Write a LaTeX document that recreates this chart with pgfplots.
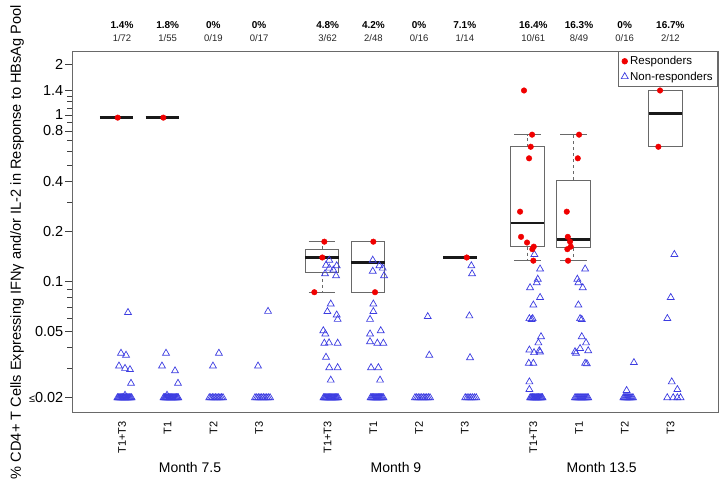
\documentclass[border=0pt]{standalone}
\usepackage{fontspec}
\setmainfont{Liberation Sans}
\usepackage{pgfplots}
\pgfplotsset{compat=1.18}
\definecolor{tri}{RGB}{60,60,225}
\definecolor{resp}{RGB}{240,0,0}
\definecolor{frame}{RGB}{105,105,105}
\begin{document}
\begin{tikzpicture}[x=1pt,y=1pt]
\begin{axis}[
  at={(72pt,-412pt)}, anchor=south west,
  scale only axis, width=646pt, height=361pt,
  ymode=log, ymin=0.01641, ymax=2.417,
  xmin=-0.094, xmax=14.04,
  axis line style={frame, line width=0.7pt},
  xtick={1,2,3,4,5.5,6.5,7.5,8.5,10,11,12,13},
  xticklabels={T1+T3,T1,T2,T3,T1+T3,T1,T2,T3,T1+T3,T1,T2,T3},
  xticklabel style={rotate=90, anchor=east, font=\fontsize{11}{13}\selectfont, inner sep=2pt},
  xtick style={draw=none},
  xtick pos=bottom, ytick pos=left,
  ytick={0.02,0.05,0.1,0.2,0.4,0.8,1,1.4,2},
  yticklabels={{{\fontsize{11}{12}\selectfont≤}0.02},0.05,0.1,0.2,0.4,0.8,1,1.4,2},
  minor ytick={0.03,0.04,0.06,0.07,0.08,0.09,0.3,0.5,0.6,0.7,0.9,1.1,1.2,1.3},
  yticklabel style={font=\fontsize{14.5}{16}\selectfont, inner xsep=1.5pt},
  tick align=outside, major tick length=7pt, minor tick length=5pt,
  tick style={black!75, line width=0.6pt},
  legend style={at={(1,1)}, anchor=north east, draw=frame, fill=white,
    font=\fontsize{11.5}{13}\selectfont, inner xsep=3pt, inner ysep=3pt, row sep=1.5pt,
    line width=0.7pt},
  legend cell align=left,
]
% ---------- box plots (responders) ----------
\pgfplotsset{bx/.style={draw=frame, line width=0.7pt, forget plot},
             md/.style={draw=black!90, line width=2.6pt, forget plot},
             wh/.style={draw=frame, line width=0.7pt, dashed, forget plot}}
% Month 7.5 T1+T3 and T1 (single responder)
\addplot[md] coordinates {(0.5135,0.962) (1.2465,0.962)};
\addplot[md] coordinates {(1.5195,0.962) (2.2525,0.962)};
% Month 9 T1+T3
\addplot[bx] coordinates {(5.0095,0.1125) (5.7425,0.1125) (5.7425,0.156) (5.0095,0.156) (5.0095,0.1125)};
\addplot[wh] coordinates {(5.376,0.156) (5.376,0.173)};
\addplot[wh] coordinates {(5.376,0.1125) (5.376,0.086)};
\addplot[bx] coordinates {(5.084,0.173) (5.668,0.173)};
\addplot[bx] coordinates {(5.084,0.086) (5.668,0.086)};
\addplot[md] coordinates {(5.0095,0.139) (5.7425,0.139)};
% Month 9 T1
\addplot[bx] coordinates {(6.0165,0.086) (6.7495,0.086) (6.7495,0.173) (6.0165,0.173) (6.0165,0.086)};
\addplot[md] coordinates {(6.0165,0.1295) (6.7495,0.1295)};
% Month 9 T3
\addplot[md] coordinates {(8.0295,0.139) (8.7625,0.139)};
% Month 13.5 T1+T3
\addplot[bx] coordinates {(9.5025,0.1615) (10.2355,0.1615) (10.2355,0.643) (9.5025,0.643) (9.5025,0.1615)};
\addplot[wh] coordinates {(9.869,0.643) (9.869,0.760)};
\addplot[wh] coordinates {(9.869,0.1615) (9.869,0.133)};
\addplot[bx] coordinates {(9.577,0.760) (10.161,0.760)};
\addplot[bx] coordinates {(9.577,0.133) (10.161,0.133)};
\addplot[md] coordinates {(9.5025,0.2235) (10.2355,0.2235)};
% Month 13.5 T1
\addplot[bx] coordinates {(10.5095,0.159) (11.2425,0.159) (11.2425,0.405) (10.5095,0.405) (10.5095,0.159)};
\addplot[wh] coordinates {(10.876,0.405) (10.876,0.760)};
\addplot[wh] coordinates {(10.876,0.159) (10.876,0.133)};
\addplot[bx] coordinates {(10.584,0.760) (11.168,0.760)};
\addplot[bx] coordinates {(10.584,0.133) (11.168,0.133)};
\addplot[md] coordinates {(10.5095,0.179) (11.2425,0.179)};
% Month 13.5 T3
\addplot[bx] coordinates {(12.5225,0.643) (13.2555,0.643) (13.2555,1.40) (12.5225,1.40) (12.5225,0.643)};
\addplot[md] coordinates {(12.5225,1.02) (13.2555,1.02)};

% ---------- non-responders ----------
\pgfplotsset{nr/.style={only marks, mark=triangle, mark size=4pt, tri, mark options={line width=0.7pt}, forget plot}}
% values at the detection floor (<= 0.02)
\addplot[nr] coordinates {
(0.90,0.02)(0.918,0.02)(0.936,0.02)(0.954,0.02)(0.972,0.02)(0.99,0.02)(1.008,0.02)(1.026,0.02)(1.044,0.02)
(1.062,0.02)(1.08,0.02)(1.098,0.02)(1.116,0.02)(1.134,0.02)(1.152,0.02)(1.17,0.02)(1.19,0.02)(1.21,0.02)
(1.91,0.02)(1.929,0.02)(1.948,0.02)(1.967,0.02)(1.986,0.02)(2.005,0.02)(2.024,0.02)(2.043,0.02)(2.062,0.02)
(2.081,0.02)(2.10,0.02)(2.119,0.02)(2.138,0.02)(2.157,0.02)(2.176,0.02)(2.195,0.02)(2.213,0.02)(2.23,0.02)
(2.91,0.02)(2.943,0.02)(2.977,0.02)(3.01,0.02)(3.043,0.02)(3.077,0.02)(3.11,0.02)(3.143,0.02)(3.177,0.02)(3.21,0.02)
(3.91,0.02)(3.947,0.02)(3.983,0.02)(4.02,0.02)(4.057,0.02)(4.093,0.02)(4.13,0.02)(4.167,0.02)(4.203,0.02)(4.24,0.02)
(5.41,0.02)(5.429,0.02)(5.448,0.02)(5.466,0.02)(5.485,0.02)(5.504,0.02)(5.523,0.02)(5.541,0.02)(5.56,0.02)
(5.579,0.02)(5.598,0.02)(5.616,0.02)(5.635,0.02)(5.654,0.02)(5.673,0.02)(5.691,0.02)(5.71,0.02)(5.73,0.02)
(6.44,0.02)(6.462,0.02)(6.483,0.02)(6.505,0.02)(6.526,0.02)(6.548,0.02)(6.569,0.02)(6.591,0.02)(6.612,0.02)
(6.634,0.02)(6.655,0.02)(6.677,0.02)(6.698,0.02)(6.72,0.02)
(7.41,0.02)(7.447,0.02)(7.483,0.02)(7.52,0.02)(7.557,0.02)(7.593,0.02)(7.63,0.02)(7.667,0.02)(7.703,0.02)(7.74,0.02)
(8.51,0.02)(8.55,0.02)(8.59,0.02)(8.63,0.02)(8.67,0.02)(8.71,0.02)(8.75,0.02)
(9.93,0.02)(9.948,0.02)(9.966,0.02)(9.984,0.02)(10.002,0.02)(10.02,0.02)(10.038,0.02)(10.056,0.02)
(10.074,0.02)(10.092,0.02)(10.11,0.02)(10.128,0.02)(10.146,0.02)(10.164,0.02)(10.182,0.02)(10.20,0.02)
(10.91,0.02)(10.932,0.02)(10.955,0.02)(10.977,0.02)(10.999,0.02)(11.022,0.02)(11.044,0.02)
(11.066,0.02)(11.088,0.02)(11.11,0.02)(11.133,0.02)(11.155,0.02)(11.178,0.02)(11.20,0.02)
(11.97,0.02)(11.993,0.02)(12.017,0.02)(12.04,0.02)(12.063,0.02)(12.087,0.02)(12.11,0.02)(12.133,0.02)(12.157,0.02)(12.18,0.02)
(12.93,0.02)(13.06,0.02)(13.15,0.02)(13.22,0.02)
};
% values above the floor
\addplot[nr] coordinates {
% Month 7.5
(1.131,0.065)(0.978,0.037)(1.088,0.036)(0.934,0.031)(1.066,0.030)(1.175,0.0295)(1.197,0.0244)(1.066,0.0207)
(1.963,0.037)(1.875,0.031)(2.16,0.029)(2.225,0.0244)(1.985,0.0207)
(3.12,0.037)(2.99,0.031)
(4.195,0.066)(3.976,0.031)
% Month 9
(5.535,0.134)(5.463,0.125)(5.697,0.124)(5.535,0.120)(5.624,0.117)(5.442,0.111)(5.683,0.108)
(5.567,0.0731)(5.494,0.0658)(5.697,0.0628)(5.718,0.0591)(5.404,0.0505)(5.449,0.0483)
(5.427,0.0425)(5.530,0.0427)(5.718,0.0425)(5.463,0.0350)(5.535,0.0303)(5.718,0.0303)(5.567,0.0255)
(6.486,0.134)(6.631,0.124)(6.704,0.120)(6.486,0.115)(6.733,0.108)(6.499,0.0731)(6.499,0.0658)
(6.427,0.0591)(6.661,0.0505)(6.427,0.0483)(6.427,0.0434)(6.587,0.0425)(6.718,0.0425)
(6.449,0.0303)(6.609,0.0303)(6.646,0.0255)
(7.689,0.0614)(7.723,0.0360)
(8.643,0.124)(8.659,0.111)(8.60,0.062)(8.615,0.0348)
% Month 13.5
(10.022,0.145)(10.147,0.1186)(10.096,0.103)(10.074,0.098)(9.928,0.0916)(10.147,0.080)(10.0,0.0721)
(9.913,0.0597)(9.985,0.0597)(9.96,0.059)(10.168,0.0465)(10.11,0.0427)(9.913,0.0387)(10.015,0.0373)
(10.13,0.0383)(10.147,0.0376)(9.90,0.0322)(10.0,0.0322)(9.913,0.0249)(9.913,0.0224)
(11.133,0.1186)(10.963,0.103)(10.985,0.098)(11.081,0.0916)(10.985,0.0721)(11.022,0.0597)(11.059,0.059)
(11.059,0.0465)(11.153,0.0427)(11.022,0.0395)(10.912,0.0378)(11.20,0.0383)(10.934,0.0370)
(11.133,0.0322)(11.17,0.0320)
(12.20,0.0325)(12.04,0.0221)
(13.085,0.145)(13.006,0.080)(12.932,0.0598)(13.028,0.0249)(13.151,0.0224)
};
% ---------- responders ----------
\addplot[only marks, mark=*, mark size=2.8pt, mark options={fill=resp, draw=resp}, forget plot] coordinates {
(0.906,0.962)(1.904,0.962)
(5.427,0.173)(5.383,0.139)(5.208,0.086)
(6.499,0.173)(6.536,0.086)
(8.543,0.139)
(9.796,1.40)(9.972,0.760)(9.943,0.643)(9.906,0.548)(9.709,0.262)(9.731,0.185)(9.862,0.171)(10.009,0.1615)(9.978,0.156)(10.0,0.133)
(11.0,0.760)(10.972,0.548)(10.731,0.262)(10.753,0.185)(10.803,0.173)(10.818,0.1615)(10.744,0.156)(10.759,0.133)
(12.772,1.40)(12.735,0.643)
};
\addlegendimage{only marks, mark=*, mark size=2.8pt, mark options={fill=resp, draw=resp}}
\addlegendentry{Responders}
\addlegendimage{only marks, mark=triangle, mark size=4pt, tri, mark options={line width=0.7pt}}
\addlegendentry{Non-responders}
\end{axis}
% ---------- annotations ----------
\foreach \x/\p/\n/\d in {122/1.4/1/72, 167.7/1.8/1/55, 213.4/0/0/19, 259.1/0/0/17,
  327.7/4.8/3/62, 373.4/4.2/2/48, 419.1/0/0/16, 464.8/7.1/1/14,
  533.3/16.4/10/61, 579/16.3/8/49, 624.7/0/0/16, 670.4/16.7/2/12}{
  \node[font=\bfseries\fontsize{10}{12}\selectfont] at (\x,-25) {\p\%};
  \node[font=\fontsize{9.5}{11}\selectfont, text=black!85] at (\x,-38.5) {\n/\d};
}
\node[font=\fontsize{14}{16}\selectfont] at (190,-467) {Month 7.5};
\node[font=\fontsize{14}{16}\selectfont] at (396,-467) {Month 9};
\node[font=\fontsize{14}{16}\selectfont] at (601.7,-467) {Month 13.5};
\node[font=\fontsize{14.6}{16}\selectfont, rotate=90] at (17,-242) {\% CD4+ T Cells Expressing IFNγ and/or IL-2 in Response to HBsAg Pool};
\pgfresetboundingbox
\path[use as bounding box] (0,0) rectangle (725,-486);
\end{tikzpicture}
\end{document}
